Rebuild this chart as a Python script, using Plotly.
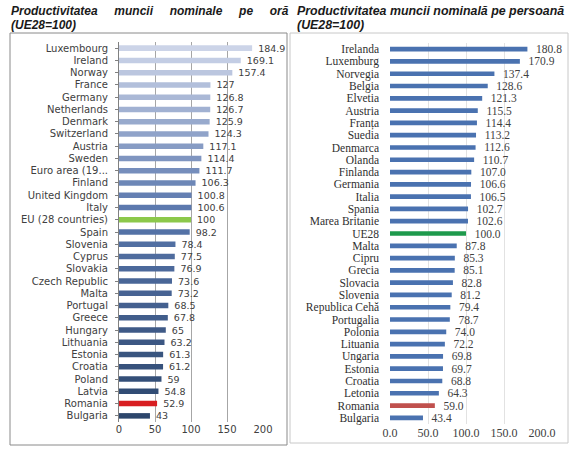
import plotly.graph_objects as go

W, H = 585, 455

left_countries = ["Luxembourg", "Ireland", "Norway", "France", "Germany", "Netherlands", "Denmark",
                  "Switzerland", "Austria", "Sweden", "Euro area (19...", "Finland", "United Kingdom",
                  "Italy", "EU (28 countries)", "Spain", "Slovenia", "Cyprus", "Slovakia", "Czech Republic",
                  "Malta", "Portugal", "Greece", "Hungary", "Lithuania", "Estonia", "Croatia", "Poland",
                  "Latvia", "Romania", "Bulgaria"]
left_values = [184.9, 169.1, 157.4, 127, 126.8, 126.7, 125.9, 124.3, 117.1, 114.4, 111.7, 106.3, 100.8,
               100.6, 100, 98.2, 78.4, 77.5, 76.9, 73.6, 73.2, 68.5, 67.8, 65, 63.2, 61.3, 61.2, 59,
               54.8, 52.9, 43]
left_labels = ["184.9", "169.1", "157.4", "127", "126.8", "126.7", "125.9", "124.3", "117.1", "114.4",
               "111.7", "106.3", "100.8", "100.6", "100", "98.2", "78.4", "77.5", "76.9", "73.6", "73.2",
               "68.5", "67.8", "65", "63.2", "61.3", "61.2", "59", "54.8", "52.9", "43"]

right_countries = ["Irelanda", "Luxemburg", "Norvegia", "Belgia", "Elvetia", "Austria", "Franța", "Suedia",
                   "Denmarca", "Olanda", "Finlanda", "Germania", "Italia", "Spania", "Marea Britanie", "UE28",
                   "Malta", "Cipru", "Grecia", "Slovacia", "Slovenia", "Republica Cehă", "Portugalia",
                   "Polonia", "Lituania", "Ungaria", "Estonia", "Croatia", "Letonia", "Romania", "Bulgaria"]
right_values = [180.8, 170.9, 137.4, 128.6, 121.3, 115.5, 114.4, 113.2, 112.6, 110.7, 107.0, 106.6, 106.5,
                102.7, 102.6, 100.0, 87.8, 85.3, 85.1, 82.8, 81.2, 79.4, 78.7, 74.0, 72.2, 69.8, 69.7,
                68.8, 64.3, 59.0, 43.4]

left_ticks = [0, 50, 100, 150, 200]
right_ticks = [0, 50, 100, 150, 200]
right_ticktext = ["0.0", "50.0", "100.0", "150.0", "200.0"]


def lerp(c1, c2, t):
    return "rgb(%d,%d,%d)" % tuple(round(a + (b - a) * t) for a, b in zip(c1, c2))


nL = len(left_countries)
light, mid, dark = (204, 212, 232), (88, 118, 172), (44, 70, 108)
left_colors = []
for i, c in enumerate(left_countries):
    t = i / (nL - 1)
    if t < 0.45:
        col = lerp(light, mid, t / 0.45)
    else:
        col = lerp(mid, dark, (t - 0.45) / 0.55)
    if c.startswith("EU (28"):
        col = "#8cc84b"
    if c == "Romania":
        col = "#d81e22"
    left_colors.append(col)

right_colors = []
for c in right_countries:
    if c == "UE28":
        right_colors.append("#1e9a4c")
    elif c == "Romania":
        right_colors.append("#c0504d")
    else:
        right_colors.append("#4a72b0")


def px(x):
    return x / W


def py(y):
    return 1 - y / H


fig = go.Figure()

fig.add_trace(go.Bar(
    x=left_values, y=left_countries, orientation="h", marker=dict(color=left_colors, line=dict(width=0)),
    width=0.45, text=left_labels, texttemplate="  %{text}", textposition="outside", cliponaxis=False,
    constraintext="none",
    textfont=dict(family="DejaVu Sans", size=9.5, color="#404040"),
    xaxis="x", yaxis="y", showlegend=False))

fig.add_trace(go.Bar(
    x=right_values, y=right_countries, orientation="h", marker=dict(color=right_colors, line=dict(width=0)),
    width=0.38, text=["%.1f" % v for v in right_values], texttemplate="   %{text}", textposition="outside",
    cliponaxis=False, constraintext="none",
    textfont=dict(family="Liberation Serif", size=11.5, color="#404040"),
    xaxis="x2", yaxis="y2", showlegend=False))

l_top, l_bot = 42, 422
r_top, r_bot = 43, 424

sp = "&nbsp;&nbsp;&nbsp;&nbsp; "

fig.update_layout(
    width=W, height=H, margin=dict(l=0, r=0, t=0, b=0, autoexpand=False),
    paper_bgcolor="white", plot_bgcolor="rgba(0,0,0,0)",
    xaxis=dict(domain=[px(119), px(263)], range=[0, 200], tickvals=left_ticks, showgrid=True,
               gridcolor="#a6a6a6", gridwidth=1, zeroline=False, showline=False, anchor="y",
               tickfont=dict(family="DejaVu Sans", size=10, color="#404040"), ticks="", automargin=False),
    yaxis=dict(domain=[py(l_bot), py(l_top)], autorange="reversed", type="category",
               tickmode="array", tickvals=left_countries,
               showline=True, linecolor="#808080", linewidth=1, ticks="outside", ticklen=3,
               tickcolor="#808080", tickfont=dict(family="DejaVu Sans", size=10, color="#404040"),
               anchor="x", showgrid=False, ticklabelstandoff=5, automargin=False),
    xaxis2=dict(domain=[px(390), px(542)], range=[0, 200], tickvals=right_ticks, ticktext=right_ticktext,
                showgrid=True, gridcolor="#e2e2e2", gridwidth=1, zeroline=False, showline=False,
                anchor="y2", tickfont=dict(family="Liberation Serif", size=12, color="#404040"), ticks="",
                automargin=False),
    yaxis2=dict(domain=[py(r_bot), py(r_top)], autorange="reversed", type="category", showline=False,
                tickmode="array", tickvals=right_countries,
                ticks="", tickfont=dict(family="Liberation Serif", size=11.5, color="#303030"),
                anchor="x2", showgrid=False, ticklabelstandoff=10, automargin=False),
    shapes=[
        dict(type="rect", xref="paper", yref="paper", x0=px(10), x1=px(287), y0=py(445), y1=py(33),
             line=dict(color="#8a8a8a", width=1)),
        dict(type="rect", xref="paper", yref="paper", x0=px(290), x1=px(568), y0=py(443), y1=py(33),
             line=dict(color="#c8c8c8", width=1)),
    ],
    annotations=[
        dict(text="<b><i>Productivitatea" + sp + "muncii" + sp + "nominale" + sp + "pe" + sp + "oră</i></b>",
             xref="paper", yref="paper", x=px(9), y=py(2), xanchor="left", yanchor="top", showarrow=False,
             font=dict(family="Liberation Sans", size=12, color="#1a1a1a")),
        dict(text="<b><i>(UE28=100)</i></b>", xref="paper", yref="paper", x=px(9), y=py(16),
             xanchor="left", yanchor="top", showarrow=False,
             font=dict(family="Liberation Sans", size=12, color="#1a1a1a")),
        dict(text="<b><i>Productivitatea muncii nominală pe persoană</i></b>", xref="paper", yref="paper",
             x=px(295), y=py(2), xanchor="left", yanchor="top", showarrow=False,
             font=dict(family="Liberation Sans", size=12.4, color="#1a1a1a")),
        dict(text="<b><i>(UE28=100)</i></b>", xref="paper", yref="paper", x=px(295), y=py(16),
             xanchor="left", yanchor="top", showarrow=False,
             font=dict(family="Liberation Sans", size=12.4, color="#1a1a1a")),
    ],
)

fig.write_html("out.html", config={"displayModeBar": False},
               post_script="document.body.style.margin='0';")
